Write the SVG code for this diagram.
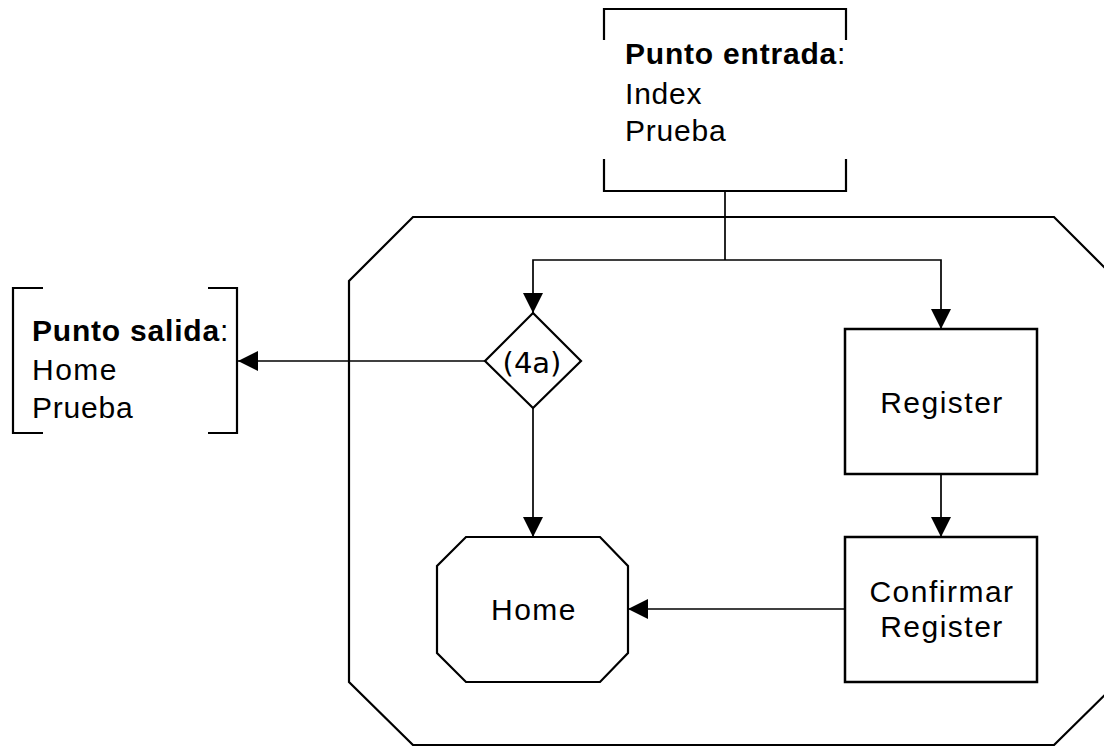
<svg xmlns="http://www.w3.org/2000/svg" width="1104" height="746" viewBox="0 0 1104 746">
<style>
.shape{fill:#fff;stroke:#000;stroke-width:2.2;stroke-linejoin:miter}
.box{fill:#fff;stroke:#000;stroke-width:2.5}
.br{fill:none;stroke:#000;stroke-width:2.2}
.con{fill:none;stroke:#000;stroke-width:1.7}
.t{font-family:"Liberation Sans",Arial,sans-serif;font-size:30px;fill:#000}
.lbl{font-family:"Liberation Sans",Arial,sans-serif;font-size:30px;fill:#000;letter-spacing:1.5px;text-anchor:middle}
.b{font-weight:bold}
</style>
<defs>
<marker id="arr" viewBox="0 0 20 20" refX="20" refY="10" markerWidth="20" markerHeight="20" markerUnits="userSpaceOnUse" orient="auto">
<path d="M0,0 L20,10 L0,20 z" fill="#000"/>
</marker>
</defs>
<rect width="1104" height="746" fill="#fff"/>
<g id="subsystem">
<polygon class="shape" points="413,217 1054,217 1118,281 1118,682 1054,745 413,745 349,682 349,281"/>
</g>
<g id="entry">
<path class="br" d="M604,40 V9 H846 V40 M604,159 V191 H846 V159"/>
<text class="t" x="625" y="64" letter-spacing="0.8"><tspan class="b">Punto entrada</tspan>:</text>
<text class="t" x="625" y="104" letter-spacing="0.8">Index</text>
<text class="t" x="625" y="141" letter-spacing="0.8">Prueba</text>
</g>
<g id="exit">
<path class="br" d="M43,288 H13 V433 H43 M208,288 H237 V433 H208"/>
<text class="t" x="32" y="341" letter-spacing="0.8"><tspan class="b">Punto salida</tspan>:</text>
<text class="t" x="32" y="380" letter-spacing="1.5">Home</text>
<text class="t" x="32" y="418" letter-spacing="0.8">Prueba</text>
</g>
<g id="decision">
<polygon class="shape" points="533,313 581,361 533,408 485,361"/>
<text x="532" y="373" font-family="DejaVu Sans,sans-serif" font-size="29" text-anchor="middle">(4a)</text>
</g>
<g id="register">
<rect class="box" x="845" y="329" width="192" height="145"/>
<text class="lbl" x="942" y="413">Register</text>
</g>
<g id="confirmar">
<rect class="box" x="845" y="537" width="192" height="145"/>
<text class="lbl" x="942" y="602">Confirmar</text>
<text class="lbl" x="942" y="637">Register</text>
</g>
<g id="home">
<polygon class="shape" points="466,537 600,537 628,566 628,653 600,682 466,682 437,653 437,566"/>
<text class="lbl" x="534" y="620">Home</text>
</g>
<g id="connectors">
<path class="con" d="M725,191 V260"/>
<path class="con" d="M725,260 H533 V313" marker-end="url(#arr)"/>
<path class="con" d="M725,260 H941 V329" marker-end="url(#arr)"/>
<path class="con" d="M485,361 H238" marker-end="url(#arr)"/>
<path class="con" d="M533,408 V537" marker-end="url(#arr)"/>
<path class="con" d="M941,474 V537" marker-end="url(#arr)"/>
<path class="con" d="M845,609 H628" marker-end="url(#arr)"/>
</g>
</svg>
